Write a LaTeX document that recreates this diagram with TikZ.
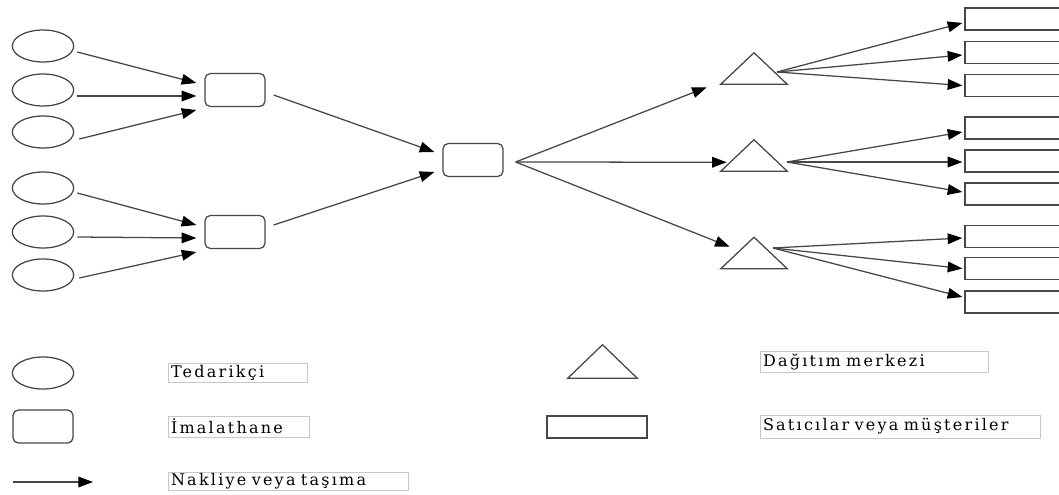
\documentclass[tikz,border=0pt]{standalone}
\usepackage{fontspec}
\setmainfont{DejaVu Serif}[LetterSpace=14,WordSpace=2.3]
\usetikzlibrary{arrows.meta,calc,shapes.geometric}

\begin{document}
\begin{tikzpicture}[x=0.75pt,y=-0.75pt,
  line/.style={draw=black!72, line width=0.95pt},
  supplier/.style={line, ellipse, minimum width=46pt, minimum height=24pt, inner sep=0pt},
  plant/.style={line, rectangle, rounded corners=4pt, minimum width=45pt, minimum height=24.75pt, inner sep=0pt},
  dcbox/.style={rectangle, minimum width=49.5pt, minimum height=23.25pt, inner sep=0pt},
  dcshape/.style={line, line join=miter},
  retailer/.style={line, rectangle, minimum width=75pt, minimum height=16.5pt, inner sep=0pt},
  flow/.style={line, -{Triangle[length=11pt,width=8pt,color=black,fill=black]}},
  label/.style={draw=black!22, line width=0.5pt, anchor=west, inner xsep=2pt,
    inner ysep=0pt, align=left, font=\fontsize{12}{14}\selectfont}
]
\useasboundingbox (0,0) rectangle (1059,495);

% suppliers
\node[supplier] (s1) at (43,46)  {};
\node[supplier] (s2) at (43,90)  {};
\node[supplier] (s3) at (43,132) {};
\node[supplier] (s4) at (43,188) {};
\node[supplier] (s5) at (43,232) {};
\node[supplier] (s6) at (43,275) {};

% plants
\node[plant] (m1) at (235,90)  {};
\node[plant] (m2) at (235,232) {};

% central plant
\node[plant] (c) at (473,160) {};

% distribution centres
\node[dcbox] (d1) at (754,68.5) {};
\node[dcbox] (d2) at (754,155.5) {};
\node[dcbox] (d3) at (754,253) {};
\foreach \d in {d1,d2,d3}
  \draw[dcshape] (\d.south west) -- (\d.north) -- (\d.south east) -- cycle;

% retailers / customers
\node[retailer] (r1) at (1015,19)    {};
\node[retailer] (r2) at (1015,52.5)  {};
\node[retailer] (r3) at (1015,85.5)  {};
\node[retailer] (r4) at (1015,128)   {};
\node[retailer] (r5) at (1015,161)   {};
\node[retailer] (r6) at (1015,194)   {};
\node[retailer] (r7) at (1015,236.5) {};
\node[retailer] (r8) at (1015,268.5) {};
\node[retailer] (r9) at (1015,302)   {};

% suppliers -> plants
\draw[flow] ($(s1.east)+(3,6)$) -- ($(m1.west)+(-8,-7)$);
\draw[flow] ($(s2.east)+(3,6)$) -- ($(m1.west)+(-8,6)$);
\draw[flow] ($(s3.east)+(5,7)$) -- ($(m1.west)+(-8,20)$);
\draw[flow] ($(s4.east)+(3,5)$) -- ($(m2.west)+(-8,-7)$);
\draw[flow] ($(s5.east)+(3,5)$) -- ($(m2.west)+(-8,6)$);
\draw[flow] ($(s6.east)+(5,3)$) -- ($(m2.west)+(-8,20)$);

% plants -> central plant
\draw[flow] ($(m1.east)+(8,5)$)  -- ($(c.west)+(-8,-8)$);
\draw[flow] ($(m2.east)+(8,-7)$) -- ($(c.west)+(-8,12)$);

% central plant -> distribution centres
\draw[flow] ($(c.east)+(12,2)$) -- ($(d1.south west)+(-14,3)$);
\draw[flow] ($(c.east)+(12,2)$) -- ($(d2.south west)+(6,-9)$);
\draw[flow] ($(c.east)+(12,2)$) -- ($(d3.south west)+(9,-22)$);

% distribution centres -> retailers
\draw[flow] ($(d1)+(23,3.5)$) -- ($(r1.west)+(-2,4)$);
\draw[flow] ($(d1)+(23,3.5)$) -- ($(r2.west)+(-2,2.5)$);
\draw[flow] ($(d1)+(23,3.5)$) -- ($(r3.west)+(-2,0)$);
\draw[flow] ($(d2)+(33,6.5)$) -- ($(r4.west)+(-2,4)$);
\draw[flow] ($(d2)+(33,6.5)$) -- ($(r5.west)+(-2,1)$);
\draw[flow] ($(d2)+(33,6.5)$) -- ($(r6.west)+(-2,-2)$);
\draw[flow] ($(d3)+(19,-5)$)  -- ($(r7.west)+(-2,1.5)$);
\draw[flow] ($(d3)+(19,-5)$)  -- ($(r8.west)+(-2,0)$);
\draw[flow] ($(d3)+(19,-5)$)  -- ($(r9.west)+(-2,-5)$);

% legend
\node[supplier] (l1) at (43,373) {};
\node[plant]    (l2) at (43,426.5) {};
\coordinate (la) at (13,482);
\coordinate (lb) at (93,482);
\draw[flow] (la) -- (lb);
\node[dcbox, minimum width=51.75pt, minimum height=24.75pt] (l3) at (602.5,361.5) {};
\draw[dcshape] (l3.south west) -- (l3.north) -- (l3.south east) -- cycle;
\node[retailer] (l4) at (597,427) {};

\node[label, text width=100pt, minimum height=14.25pt] (t1) at (168,372.5) {Tedarikçi};
\node[label, text width=101.5pt, minimum height=15.75pt] (t2) at (168,426.5) {İmalathane};
\node[label, text width=176pt, minimum height=13.5pt] (t3) at (168,481) {Nakliye veya taşıma};
\node[label, text width=167pt, minimum height=15.75pt] (t4) at (760,361.5) {Dağıtım merkezi};
\node[label, text width=206pt, minimum height=17.25pt] (t5) at (760,426.5) {Satıcılar veya müşteriler};
\end{tikzpicture}
\end{document}
